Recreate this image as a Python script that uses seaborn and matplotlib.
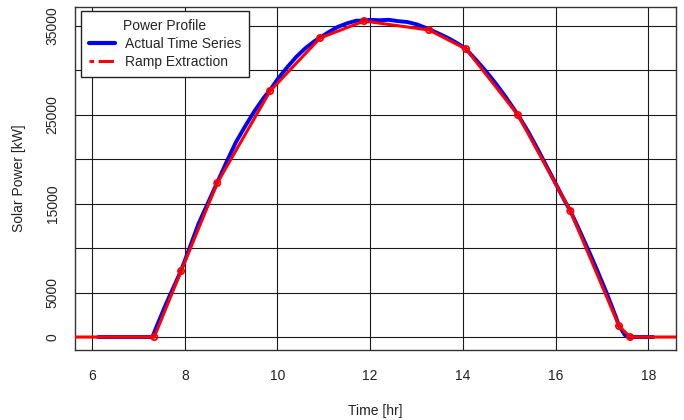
import matplotlib
matplotlib.use("Agg")
import matplotlib.pyplot as plt
import seaborn as sns
import pandas as pd
from matplotlib.lines import Line2D

# Actual time series
actual_time = [6.13, 7.30, 7.40, 7.60, 7.80, 7.92, 8.10, 8.30, 8.50, 8.70, 8.90, 9.10, 9.30,
               9.50, 9.70, 9.84, 10.0, 10.2, 10.4, 10.6, 10.8, 10.92, 11.1, 11.3, 11.5, 11.7,
               11.87, 12.0, 12.2, 12.4, 12.6, 12.8, 13.0, 13.27, 13.5, 13.7, 13.9, 14.07, 14.3,
               14.5, 14.7, 14.9, 15.19, 15.4, 15.6, 15.8, 16.0, 16.2, 16.32, 16.5, 16.7, 16.9,
               17.1, 17.3, 17.37, 17.5, 17.6, 18.11]
actual_power = [0, 0, 1300, 3800, 6100, 7500, 10000, 12800, 15100, 17400, 19700, 21900, 23700,
                25400, 26900, 27800, 29000, 30300, 31500, 32500, 33300, 33700, 34300, 34900, 35300, 35600,
                35600, 35700, 35650, 35700, 35550, 35450, 35200, 34650, 34100, 33600, 33000, 32400, 31100,
                29900, 28600, 27200, 25000, 23200, 21300, 19300, 17300, 15300, 14200, 12200, 9900, 7500,
                5000, 2300, 1250, 200, 0, 0]

# Ramp extraction points
ramp_time = [7.34, 7.92, 8.70, 9.84, 10.92, 11.87, 13.27, 14.07, 15.19, 16.32, 17.37, 17.61]
ramp_power = [0, 7430, 17330, 27680, 33650, 35560, 34550, 32410, 24980, 14180, 1240, 0]
ramp_ext_time = [5.4, 18.8]
ramp_ext_power = [0, 0]

x_ticks = [6, 8, 10, 12, 14, 16, 18]
y_ticks = [0, 5000, 10000, 15000, 20000, 25000, 30000, 35000]
y_tick_labels = ["0", "5000", "", "15000", "", "25000", "", "35000"]

sns.set_theme(style="white")
plt.rcParams["font.family"] = ["Liberation Sans", "DejaVu Sans"]

fig = plt.figure(figsize=(6.84, 4.2), dpi=100)
ax = fig.add_axes([75/684, 1-350/420, 601/684, 343/420])

df_a = pd.DataFrame({"t": actual_time, "p": actual_power})
red_t = [ramp_ext_time[0]] + ramp_time + [ramp_ext_time[1]]
red_p = [ramp_ext_power[0]] + ramp_power + [ramp_ext_power[1]]
df_r = pd.DataFrame({"t": red_t, "p": red_p})
df_pts = pd.DataFrame({"t": ramp_time, "p": ramp_power})

for v in x_ticks:
    ax.axvline(v, color="#1a1a1a", lw=0.8, zorder=1)
for v in y_ticks:
    ax.axhline(v, color="#1a1a1a", lw=0.8, zorder=1)

sns.lineplot(data=df_a, x="t", y="p", color="#0000ff", lw=2.8, sort=False, ax=ax, zorder=3)
sns.lineplot(data=df_r, x="t", y="p", color="#ff0000", lw=2.2, sort=False, ax=ax, zorder=4)
sns.scatterplot(data=df_pts, x="t", y="p", ax=ax, marker="o", s=20, facecolor="none",
                edgecolor="#ff0000", linewidth=1.3, zorder=5)

ax.set_xlim(5.63, 18.6)
ax.set_ylim(-1460, 37140)
ax.set_xticks(x_ticks)
ax.set_xticklabels([str(v) for v in x_ticks])
ax.set_yticks(y_ticks)
ax.set_yticklabels(y_tick_labels, rotation=90, va="center")
ax.tick_params(axis="both", length=0, labelsize=10, colors="#222222")
ax.tick_params(axis="x", pad=14)
ax.tick_params(axis="y", pad=11)
for s in ax.spines.values():
    s.set_color("#333333")
    s.set_linewidth(1.0)
ax.set_xlabel("Time [hr]", fontsize=10, color="#222222", labelpad=15)
ax.set_ylabel("Solar Power [kW]", fontsize=10, color="#222222", labelpad=14)

handles = [Line2D([], [], color="#0000ff", lw=3.0),
           Line2D([], [], color="#ff0000", lw=2.2, linestyle=(0, (1.5, 1.5, 5, 1.5)))]
leg = ax.legend(handles, ["Actual Time Series", "Ramp Extraction"], title="Power Profile",
                loc="upper left", bbox_to_anchor=((81-75)/601, (350-11)/343), borderaxespad=0,
                fontsize=10, title_fontsize=10, frameon=True, fancybox=False,
                edgecolor="#222222", framealpha=1, handlelength=1.9, labelspacing=0.3,
                borderpad=0.55, handletextpad=0.7)
leg.get_frame().set_linewidth(1.0)
leg.set_zorder(10)

fig.savefig("out.png", dpi=100)
